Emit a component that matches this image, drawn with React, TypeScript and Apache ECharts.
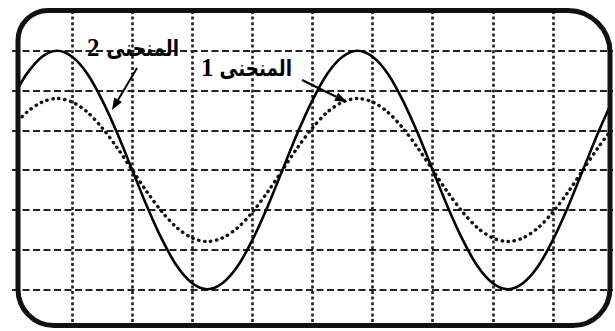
import React, { useEffect, useRef } from "react";
import * as echarts from "echarts";

// Horizontal position in screen divisions (0..10)
const timeDiv = [
  0.1, 0.25, 0.5, 0.75, 1.0, 1.25, 1.5, 1.75, 2.0, 2.25, 2.5, 2.75, 3.0, 3.25,
  3.5, 3.75, 4.0, 4.25, 4.5, 4.75, 5.0, 5.25, 5.5, 5.75, 6.0, 6.25, 6.5, 6.75,
  7.0, 7.25, 7.5, 7.75, 8.0, 8.25, 8.5, 8.75, 9.0, 9.25, 9.5, 9.75, 9.95,
];

// Curve 1 (dotted trace), vertical divisions
const curve1 = [
  1.23, 1.46, 1.71, 1.8, 1.71, 1.46, 1.06, 0.56, 0, -0.56, -1.06, -1.46, -1.71,
  -1.8, -1.71, -1.46, -1.06, -0.56, 0, 0.56, 1.06, 1.46, 1.71, 1.8, 1.71, 1.46,
  1.06, 0.56, 0, -0.56, -1.06, -1.46, -1.71, -1.8, -1.71, -1.46, -1.06, -0.56,
  0, 0.56, 0.96,
];

// Curve 2 (solid trace), vertical divisions
const curve2 = [
  2.05, 2.43, 2.85, 3.0, 2.85, 2.43, 1.76, 0.93, 0, -0.93, -1.76, -2.43, -2.85,
  -3.0, -2.85, -2.43, -1.76, -0.93, 0, 0.93, 1.76, 2.43, 2.85, 3.0, 2.85, 2.43,
  1.76, 0.93, 0, -0.93, -1.76, -2.43, -2.85, -3.0, -2.85, -2.43, -1.76, -0.93,
  0, 0.93, 1.61,
];

const labelWord = "المنحنى";
const labelNumbers = ["1", "2"];

// Arrow as a line plus a triangular head at the tip
function arrow(x1: number, y1: number, x2: number, y2: number) {
  const dx = x2 - x1;
  const dy = y2 - y1;
  const len = Math.hypot(dx, dy);
  const ux = dx / len;
  const uy = dy / len;
  const headLen = 12;
  const halfW = 4.5;
  const bx = x2 - ux * headLen;
  const by = y2 - uy * headLen;
  return [
    {
      type: "line",
      shape: { x1, y1, x2: bx, y2: by },
      style: { stroke: "#000", lineWidth: 2 },
      z: 20,
    },
    {
      type: "polygon",
      shape: {
        points: [
          [x2, y2],
          [bx - uy * halfW, by + ux * halfW],
          [bx + uy * halfW, by - ux * halfW],
        ],
      },
      style: { fill: "#000" },
      z: 20,
    },
  ];
}

// Curve caption: Arabic word with its number to the left
function caption(num: string, wordRight: number, numLeft: number, cy: number) {
  return [
    {
      type: "text",
      x: wordRight,
      y: cy + 1,
      scaleX: 0.8,
      style: {
        text: labelWord,
        font: "bold 23px 'DejaVu Sans', sans-serif",
        fill: "#000",
        align: "right",
        verticalAlign: "middle",
      },
      z: 20,
    },
    {
      type: "text",
      x: numLeft,
      y: cy,
      style: {
        text: num,
        font: "bold 25px 'Liberation Serif', serif",
        fill: "#000",
        align: "left",
        verticalAlign: "middle",
      },
      z: 20,
    },
  ];
}

export default function App() {
  const ref = useRef<HTMLDivElement>(null);

  useEffect(() => {
    if (!ref.current) return;
    const chart = echarts.init(ref.current, null, { renderer: "svg" });

    chart.setOption({
      animation: false,
      backgroundColor: "#fff",
      grid: { left: 12, right: 2, top: 11, bottom: 2 },
      xAxis: {
        type: "value",
        min: 0,
        max: 10,
        interval: 1,
        axisLine: { show: false },
        axisTick: { show: false },
        axisLabel: { show: false },
        splitLine: {
          show: true,
          showMinLine: false,
          showMaxLine: false,
          lineStyle: { color: "#222", width: 2.6, type: [3, 2.6] },
        },
      },
      yAxis: {
        type: "value",
        min: -4,
        max: 4,
        interval: 1,
        axisLine: { show: false },
        axisTick: { show: false },
        axisLabel: { show: false },
        splitLine: {
          show: true,
          showMinLine: false,
          showMaxLine: false,
          lineStyle: { color: "#222", width: 2, type: [7, 3.5] },
        },
      },
      series: [
        {
          name: labelWord + " " + labelNumbers[0],
          type: "line",
          data: timeDiv.map((t, i) => [t, curve1[i]]),
          showSymbol: false,
          smooth: 0.3,
          lineStyle: {
            color: "#111",
            width: 3.4,
            type: [0.4, 5.6],
            cap: "round",
          },
          z: 3,
        },
        {
          name: labelWord + " " + labelNumbers[1],
          type: "line",
          data: timeDiv.map((t, i) => [t, curve2[i]]),
          showSymbol: false,
          smooth: 0.3,
          lineStyle: { color: "#000", width: 2.6 },
          z: 4,
        },
      ],
      graphic: [
        {
          type: "rect",
          shape: { x: 18, y: 10.5, width: 592, height: 315, r: [30, 42, 37, 36] },
          style: { fill: "none", stroke: "#111", lineWidth: 5 },
          z: 30,
        },
        ...caption(labelNumbers[1], 179, 87, 47),
        ...caption(labelNumbers[0], 292, 201, 67),
        ...arrow(137, 68, 112, 110),
        ...arrow(302, 80, 347, 102),
      ],
    });

    return () => chart.dispose();
  }, []);

  return (
    <div
      ref={ref}
      style={{
        position: "absolute",
        left: 0,
        top: 0,
        width: 615,
        height: 331,
        background: "#fff",
      }}
    />
  );
}
